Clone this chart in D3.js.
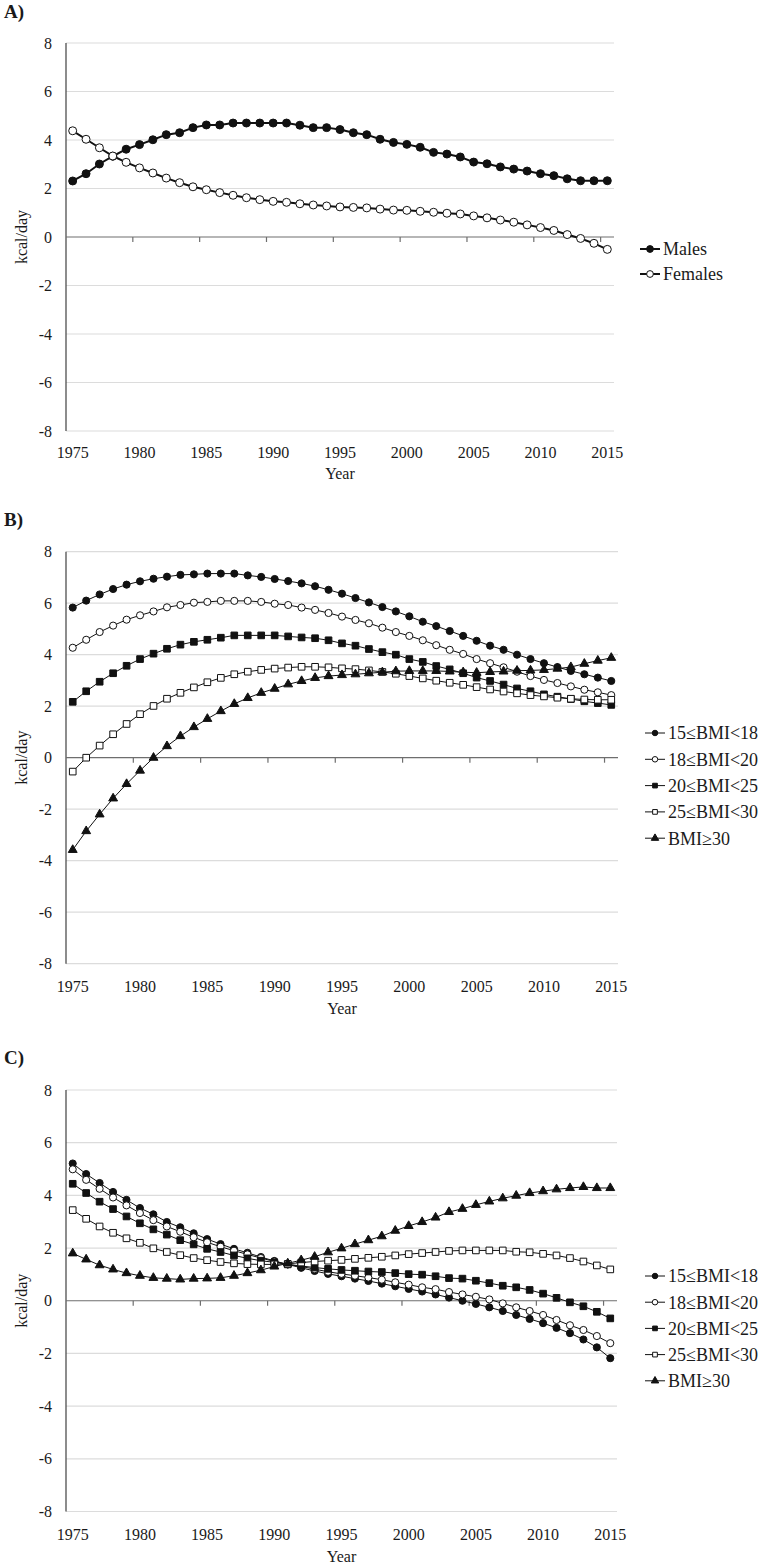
<!DOCTYPE html>
<html><head><meta charset="utf-8">
<script src="https://cdn.jsdelivr.net/npm/d3@7"></script>
<style>
html,body{margin:0;padding:0;background:#fff;}
text{font-family:"Liberation Serif","Times New Roman",serif;fill:#1a1a1a;}
</style></head>
<body>
<script>
const years = [1975,1976,1977,1978,1979,1980,1981,1982,1983,1984,1985,1986,1987,1988,1989,1990,1991,1992,1993,1994,1995,1996,1997,1998,1999,2000,2001,2002,2003,2004,2005,2006,2007,2008,2009,2010,2011,2012,2013,2014,2015];
const xTickLabels = [1975,1980,1985,1990,1995,2000,2005,2010,2015];
const yTicks = [-8,-6,-4,-2,0,2,4,6,8];

// Panel A
const malesA = [2.31,2.61,3.01,3.33,3.62,3.81,4.01,4.22,4.30,4.51, 4.62,4.62,4.70,4.70,4.70,4.70,4.70,4.61,4.51,4.51, 4.43,4.30,4.22,4.03,3.90,3.82,3.70,3.49,3.42,3.30, 3.09,3.02,2.89,2.80,2.72,2.61,2.53,2.40,2.32,2.32,2.32];
const femalesA = [4.38,4.03,3.68,3.34,3.08,2.85,2.64,2.43,2.24,2.07, 1.95,1.83,1.72,1.62,1.54,1.47,1.43,1.37,1.32,1.28, 1.24,1.22,1.20,1.15,1.11,1.10,1.06,1.02,0.98,0.95, 0.87,0.79,0.70,0.61,0.50,0.39,0.27,0.10,-0.06,-0.26,-0.51];

// Panel B
const bmi15B = [5.83,6.10,6.34,6.55,6.72,6.85,6.95,7.03,7.10,7.12, 7.15,7.15,7.15,7.08,7.02,6.94,6.86,6.77,6.66,6.52, 6.37,6.20,6.03,5.85,5.68,5.49,5.28,5.11,4.92,4.73, 4.54,4.35,4.19,4.00,3.83,3.67,3.52,3.37,3.24,3.11,2.98];
const bmi18B = [4.27,4.58,4.88,5.13,5.36,5.53,5.68,5.84,5.93,6.02, 6.05,6.09,6.09,6.09,6.05,5.98,5.93,5.83,5.74,5.62, 5.48,5.35,5.22,5.05,4.88,4.73,4.56,4.37,4.19,4.03, 3.83,3.67,3.51,3.34,3.17,3.02,2.90,2.77,2.64,2.54,2.43];
const bmi20B = [2.17,2.58,2.95,3.28,3.57,3.83,4.04,4.23,4.39,4.50, 4.58,4.66,4.75,4.75,4.75,4.75,4.71,4.67,4.64,4.56, 4.44,4.35,4.22,4.10,4.00,3.83,3.72,3.56,3.43,3.28, 3.11,2.98,2.84,2.69,2.58,2.46,2.37,2.28,2.19,2.12,2.05];
const bmi25B = [-0.54,0.00,0.47,0.91,1.31,1.69,2.01,2.29,2.52,2.73, 2.93,3.10,3.24,3.34,3.41,3.46,3.50,3.53,3.53,3.51, 3.47,3.44,3.39,3.33,3.26,3.17,3.08,2.99,2.91,2.83, 2.74,2.65,2.57,2.50,2.43,2.38,2.33,2.29,2.26,2.25,2.25];
const bmi30B = [-3.58,-2.85,-2.20,-1.58,-1.02,-0.50,0.00,0.45,0.84,1.19, 1.51,1.81,2.09,2.32,2.52,2.68,2.85,2.98,3.10,3.17, 3.21,3.24,3.28,3.32,3.36,3.37,3.37,3.37,3.35,3.32, 3.30,3.33,3.35,3.38,3.39,3.41,3.46,3.52,3.65,3.77,3.88];

// Panel C
const bmi15C = [5.21,4.81,4.47,4.13,3.83,3.52,3.28,2.99,2.79,2.56, 2.34,2.15,1.97,1.82,1.66,1.51,1.38,1.25,1.13,1.02, 0.93,0.84,0.75,0.65,0.55,0.45,0.35,0.24,0.12,0.00, -0.12,-0.25,-0.39,-0.54,-0.69,-0.85,-1.03,-1.23,-1.47,-1.77,-2.18];
const bmi18C = [4.99,4.59,4.25,3.92,3.62,3.33,3.06,2.82,2.62,2.41, 2.22,2.05,1.90,1.76,1.62,1.49,1.38,1.30,1.20,1.10, 1.02,0.95,0.88,0.80,0.70,0.61,0.51,0.44,0.33,0.24, 0.15,0.05,-0.10,-0.25,-0.39,-0.54,-0.73,-0.93,-1.11,-1.34,-1.61];
const bmi20C = [4.44,4.09,3.76,3.48,3.20,2.94,2.71,2.51,2.30,2.14, 1.97,1.85,1.72,1.61,1.52,1.46,1.38,1.32,1.26,1.21, 1.17,1.14,1.11,1.09,1.05,1.01,0.99,0.93,0.86,0.84, 0.76,0.67,0.57,0.51,0.41,0.27,0.11,-0.06,-0.21,-0.42,-0.67];
const bmi25C = [3.44,3.11,2.82,2.58,2.37,2.20,1.99,1.85,1.73,1.62, 1.54,1.47,1.42,1.39,1.38,1.38,1.40,1.45,1.49,1.52, 1.55,1.59,1.63,1.67,1.72,1.77,1.81,1.85,1.89,1.91, 1.91,1.91,1.91,1.86,1.84,1.78,1.72,1.62,1.49,1.34,1.19];
const bmi30C = [1.80,1.57,1.35,1.19,1.05,0.95,0.87,0.84,0.81,0.84, 0.85,0.87,0.95,1.05,1.16,1.30,1.42,1.54,1.67,1.84, 1.99,2.15,2.30,2.45,2.66,2.84,2.99,3.16,3.37,3.49, 3.64,3.77,3.89,3.99,4.09,4.16,4.23,4.28,4.32,4.28,4.28];

const sexLabels = ["Males","Females"];
const bmiLabels = ["15\u2264BMI<18","18\u2264BMI<20","20\u2264BMI<25","25\u2264BMI<30","BMI\u226530"];
const bmiSymbols = [["circle",true],["circle",false],["square",true],["square",false],["triangle",true]];

const svg = d3.select("body").append("svg").attr("width",764).attr("height",1566);

const symMap = {circle:d3.symbolCircle, square:d3.symbolSquare, triangle:d3.symbolTriangle};

function drawPanel(cfg){
  const g = svg.append("g");
  const x = d3.scaleBand().domain(years).range([cfg.left, cfg.right]);
  const bw = x.bandwidth();
  const y = d3.scaleLinear().domain([-8,8]).range([cfg.bottom, cfg.top]);

  // panel letter
  g.append("text").attr("x",4).attr("y",cfg.labelY).attr("font-size",19).attr("font-weight","bold").text(cfg.letter);

  // gridlines
  g.append("g").selectAll("line").data(yTicks.filter(d=>d!==0)).join("line")
    .attr("x1",cfg.left).attr("x2",cfg.right).attr("y1",d=>y(d)).attr("y2",d=>y(d))
    .attr("stroke","#dcdcdc").attr("stroke-width",1.2);

  // y axis labels
  const ya = g.append("g").attr("transform",`translate(${cfg.left-14},0)`)
    .call(d3.axisLeft(y).tickValues(yTicks).tickSize(0).tickFormat(d=>String(d)));
  ya.select(".domain").remove();
  ya.selectAll("text").attr("font-size",16).attr("font-family","Liberation Serif, serif").attr("fill","#1a1a1a").attr("x",0);

  // y axis line
  g.append("line").attr("x1",cfg.left).attr("x2",cfg.left).attr("y1",cfg.top).attr("y2",cfg.bottom)
    .attr("stroke","#404040").attr("stroke-width",1.2);

  // x axis at zero
  g.append("line").attr("x1",cfg.left).attr("x2",cfg.right).attr("y1",y(0)).attr("y2",y(0))
    .attr("stroke","#6e6e6e").attr("stroke-width",1.2);
  g.append("g").selectAll("line").data(xTickLabels.slice(1)).join("line")
    .attr("x1",d=>x(d)).attr("x2",d=>x(d)).attr("y1",y(0)).attr("y2",y(0)+5)
    .attr("stroke","#6e6e6e").attr("stroke-width",1.2);

  // x labels at bottom
  const xa = g.append("g").attr("transform",`translate(0,${cfg.bottom+cfg.xLabOff})`)
    .call(d3.axisBottom(x).tickValues(xTickLabels).tickSize(0).tickPadding(0));
  xa.select(".domain").remove();
  xa.selectAll("text").attr("font-size",16).attr("font-family","Liberation Serif, serif").attr("fill","#1a1a1a").attr("dy","0.35em");

  g.append("text").attr("x",(cfg.left+cfg.right)/2).attr("y",cfg.bottom+cfg.yearOff).attr("dy","0.35em")
    .attr("text-anchor","middle").attr("font-size",16).text("Year");

  g.append("text").attr("transform",`translate(21,${y(0)}) rotate(-90)`).attr("dy","0.35em")
    .attr("text-anchor","middle").attr("font-size",16).text("kcal/day");

  // series
  const line = d3.line().x((d,i)=>x(years[i])+bw/2).y(d=>y(d));
  cfg.series.forEach((s,si)=>{
    g.append("path").attr("d",line(s.values)).attr("fill","none").attr("stroke","#111").attr("stroke-width",cfg.lw);
    const sym = d3.symbol().type(symMap[s.shape]).size(cfg.sizes[s.shape]);
    g.append("g").selectAll("path").data(s.values).join("path")
      .attr("transform",(d,i)=>`translate(${x(years[i])+bw/2},${y(d)})`)
      .attr("d",sym).attr("fill",s.filled?"#111":"#fff").attr("stroke","#111").attr("stroke-width",1);
    // legend
    const ly = cfg.legY + si*cfg.legStep;
    g.append("line").attr("x1",cfg.legX).attr("x2",cfg.legX+20).attr("y1",ly).attr("y2",ly)
      .attr("stroke","#111").attr("stroke-width",cfg.lw);
    g.append("path").attr("transform",`translate(${cfg.legX+10},${ly})`)
      .attr("d",d3.symbol().type(symMap[s.shape]).size(cfg.legSizes[s.shape]))
      .attr("fill",s.filled?"#111":"#fff").attr("stroke","#111").attr("stroke-width",1);
    g.append("text").attr("x",cfg.legX+23).attr("y",ly).attr("dy","0.35em").attr("font-size",18).text(s.label);
  });
}

drawPanel({letter:"A)", labelY:18, top:43, bottom:431, left:66, right:614, xLabOff:21, yearOff:42, lw:2,
  sizes:{circle:50,square:49,triangle:34}, legSizes:{circle:36,square:30,triangle:26},
  legX:640, legY:249, legStep:25,
  series:[{label:sexLabels[0],values:malesA,shape:"circle",filled:true},
          {label:sexLabels[1],values:femalesA,shape:"circle",filled:false}]});

const bSeries = [bmi15B,bmi18B,bmi20B,bmi25B,bmi30B].map((v,i)=>({label:bmiLabels[i],values:v,shape:bmiSymbols[i][0],filled:bmiSymbols[i][1]}));
drawPanel({letter:"B)", labelY:526, top:551.7, bottom:963.7, left:66, right:618, xLabOff:23, yearOff:45, lw:1,
  sizes:{circle:40,square:44,triangle:34}, legSizes:{circle:24,square:22,triangle:24},
  legX:645, legY:733, legStep:26.3, series:bSeries});

const cSeries = [bmi15C,bmi18C,bmi20C,bmi25C,bmi30C].map((v,i)=>({label:bmiLabels[i],values:v,shape:bmiSymbols[i][0],filled:bmiSymbols[i][1]}));
drawPanel({letter:"C)", labelY:1064, top:1090, bottom:1511.5, left:66, right:617, xLabOff:22.5, yearOff:45, lw:1,
  sizes:{circle:40,square:44,triangle:34}, legSizes:{circle:24,square:22,triangle:24},
  legX:645, legY:1276, legStep:26.2, series:cSeries});
</script>
</body></html>
